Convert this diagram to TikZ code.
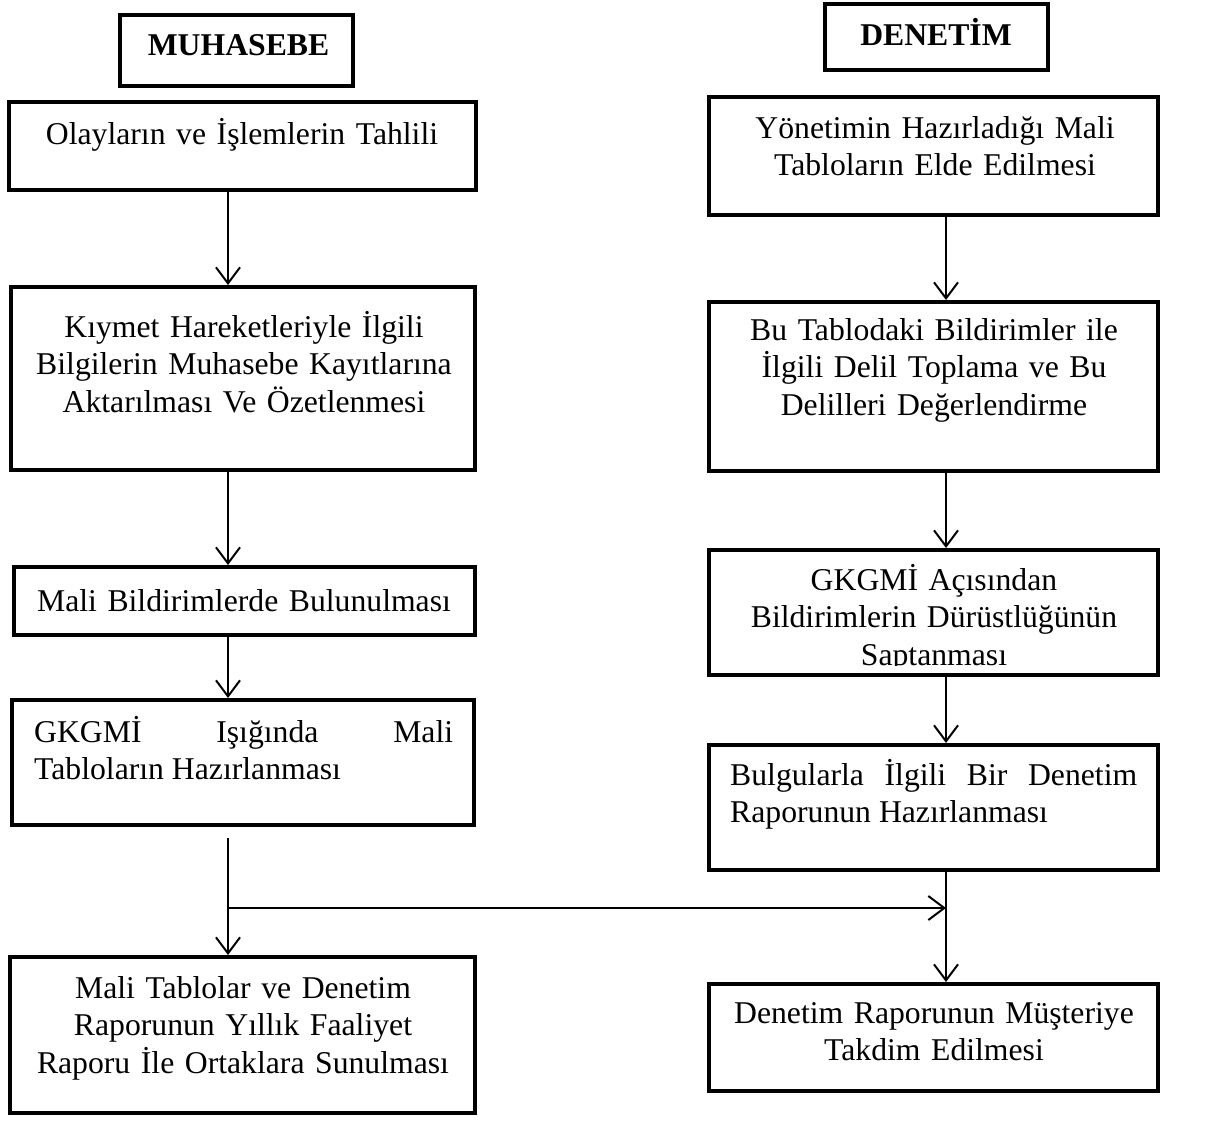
\documentclass[tikz,border=0pt]{standalone}
\usepackage{fontspec}
\setmainfont{Liberation Serif}
\usetikzlibrary{arrows.meta}
\begin{document}
\begin{tikzpicture}[x=1pt,y=-1pt,
  box/.style={draw, line width=4pt, rectangle, inner sep=0pt},
  hdr/.style={font=\fontsize{31.7}{37.5}\selectfont\bfseries, inner sep=0pt, anchor=base},
  txt/.style={font=\fontsize{31.7}{37.5}\selectfont, align=center, text width=445pt, inner sep=0pt, anchor=base},
  jtxt/.style={font=\fontsize{31.7}{37.5}\selectfont, align=justify, inner sep=0pt, anchor=base west},
  arr/.style={line width=2pt, -{Straight Barb[length=16pt,width=24pt]}}]
\useasboundingbox (0,0) rectangle (1216,1120);

% headers
\node[box, minimum width=233pt, minimum height=71pt] (h1) at (236.5,50.5) {};
\node[hdr] (h1t) at (238.5,55) {MUHASEBE};
\node[box, minimum width=223pt, minimum height=66pt] (h2) at (936.5,37) {};
\node[hdr] (h2t) at (936,45) {DENETİM};

% left column
\node[box, minimum width=467pt, minimum height=88pt] (l1) at (242.5,146) {};
\node[txt] (l1t) at (242,144) {Olayların ve İşlemlerin Tahlili};
\node[box, minimum width=464pt, minimum height=183pt] (l2) at (243,378.5) {};
\node[txt] (l2t) at (244,337) {Kıymet Hareketleriyle İlgili\\Bilgilerin Muhasebe Kayıtlarına\\Aktarılması Ve Özetlenmesi};
\node[box, minimum width=461pt, minimum height=68pt] (l3) at (244.5,601) {};
\node[txt] (l3t) at (244,611) {Mali Bildirimlerde Bulunulması};
\node[box, minimum width=462pt, minimum height=125pt] (l4) at (243,762.5) {};
\node[jtxt, text width=419pt] (l4t) at (34,742) {GKGMİ Işığında Mali\linebreak Tabloların Hazırlanması};
\node[box, minimum width=465pt, minimum height=156pt] (l5) at (242.5,1035) {};
\node[txt] (l5t) at (243,998) {Mali Tablolar ve Denetim\\Raporunun Yıllık Faaliyet\\Raporu İle Ortaklara Sunulması};

% right column
\node[box, minimum width=449pt, minimum height=118pt] (r1) at (933.5,156) {};
\node[txt] (r1t) at (935,138) {Yönetimin Hazırladığı Mali\\Tabloların Elde Edilmesi};
\node[box, minimum width=449pt, minimum height=169pt] (r2) at (933.5,386.5) {};
\node[txt] (r2t) at (934,340) {Bu Tablodaki Bildirimler ile\\İlgili Delil Toplama ve Bu\\Delilleri Değerlendirme};
\node[box, minimum width=449pt, minimum height=125pt] (r3) at (933.5,612.5) {};
\begin{scope}
  \clip (709,552) rectangle (1158,665);
  \node[txt] (r3t) at (934,590) {GKGMİ Açısından\\Bildirimlerin Dürüstlüğünün\\Saptanması};
\end{scope}
\node[box, minimum width=449pt, minimum height=125pt] (r4) at (933.5,807.5) {};
\node[jtxt, text width=407pt] (r4t) at (730,785) {Bulgularla İlgili Bir Denetim\linebreak Raporunun Hazırlanması};
\node[box, minimum width=449pt, minimum height=107pt] (r5) at (933.5,1037.5) {};
\node[txt] (r5t) at (934,1023) {Denetim Raporunun Müşteriye\\Takdim Edilmesi};

% connectors
\coordinate (cl) at (228,0);
\coordinate (cr) at (946,0);
\coordinate (js) at (228,838);
\coordinate (jm) at (228,908);
\draw[arr] (l1.south -| cl) -- (l2.north -| cl);
\draw[arr] (l2.south -| cl) -- (l3.north -| cl);
\draw[arr] (l3.south -| cl) -- (l4.north -| cl);
\draw[arr] (js) -- (js |- l5.north);
\draw[arr] (jm) -- (jm -| cr);
\draw[arr] (r1.south -| cr) -- (r2.north -| cr);
\draw[arr] (r2.south -| cr) -- (r3.north -| cr);
\draw[arr] (r3.south -| cr) -- (r4.north -| cr);
\draw[arr] (r4.south -| cr) -- (r5.north -| cr);
\end{tikzpicture}
\end{document}
